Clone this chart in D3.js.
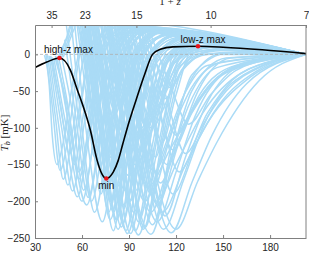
<!DOCTYPE html>
<html>
<head>
<meta charset="UTF-8">
<script src="https://d3js.org/d3.v7.min.js"></script>
<style>
  body { margin: 0; background: #fff; }
  svg { display: block; font-family: "Liberation Sans", Arial, sans-serif; }
</style>
</head>
<body>
<svg width="309" height="257"></svg>
<script>
// 21-cm rest frequency in MHz, used for the 1+z axis on top
const REST_FREQ = 1420.4;

const xTicks = [30, 60, 90, 120, 150, 180];
const yTicks = [0, -50, -100, -150, -200, -250];
const zTicks = [35, 23, 15, 10, 7];

// reference model (black): [nu MHz, T mK]
const blackCurve = [
  [30,-18],[37.5,-10.5],[45.6,-5],[52.5,-21],[56.8,-47],[62,-79],[65.3,-103],
  [69.6,-144],[72.5,-162],[75.5,-169],[80,-160],[83,-145],[86,-122],[90,-92],
  [94.5,-62],[100,-27],[105,0],[110,7],[118,10.2],[134,11],[150,9.8],[175,6.3],[203,1]
];

// extrema markers
const markNames = ["high-z max", "min", "low-z max"];
const markNu    = [45.6, 75.5, 134];
const markT     = [-5, -169, 11];

// light blue model family, each a flat list nu,T,nu,T,...
const blueCurves = [
  [37,0, 41,-70, 46,-158, 51,-115, 57,-20, 64,42, 120,26, 203,0],
  [38,-1, 43,-85, 48,-170, 54,-105, 60,-15, 69,46, 130,22, 203,0],
  [39,-2, 45,-95, 51,-178, 57,-105, 64,-8, 75,45, 140,19, 203,0],
  [40,-3, 47,-100, 54,-186, 61,-100, 68,0, 81,43, 150,16, 203,0],
  [41,-4, 49,-105, 57,-194, 65,-105, 73,-5, 87,38, 160,12, 203,0],
  [42,-5, 51,-110, 60,-200, 68,-110, 77,-8, 93,34, 150,16, 203,0],
  [43,-6, 52,-85, 58,-160, 65,-90, 72,0, 86,30, 203,0],
  [40,-2, 46,-65, 52,-135, 58,-75, 66,10, 80,36, 203,0],
  [44,-3, 52,-100, 63,-205, 72,-110, 81,-5, 97,33, 150,16, 203,0],
  [36,-1, 39,-40, 41,-110, 44,-150, 48,-120, 54,-40, 62,30, 74,46, 203,0],
  [43,-2, 49,-60, 55,-150, 61,-80, 68,10, 80,40, 203,0],
  [45,-3, 51,-70, 58,-170, 65,-90, 72,5, 84,40, 140,19, 203,0],
  [47,-3, 54,-80, 61,-185, 69,-95, 77,0, 90,36, 203,0],
  [49,20, 56,-85, 64,-195, 72,-100, 81,-2, 96,34, 203,0],
  [50,40, 58,-90, 66,-200, 75,-100, 84,0, 99,33, 160,12, 203,0],
  [52,70, 60,-100, 68,-215, 77,-110, 86,0, 100,32, 203,0],
  [54,70, 63,-110, 73,-228, 82,-115, 92,-3, 108,30, 203,0],
  [45,-2, 50,22, 54,48, 60,20, 66,-100, 72,-190, 79,-100, 87,0, 100,32, 203,0],
  [46,-3, 51,25, 56,55, 63,10, 70,-110, 77,-215, 85,-110, 94,0, 108,30, 203,0],
  [47,-4, 53,30, 58,60, 66,0, 74,-120, 82,-225, 91,-115, 100,0, 115,28, 203,0],
  [48,-4, 55,35, 61,65, 69,5, 78,-110, 86,-230, 95,-120, 104,0, 120,25, 203,0],
  [55,70, 63,-60, 68,-140, 75,-70, 82,10, 95,35, 203,0],
  [57,70, 66,-70, 71,-155, 79,-80, 87,5, 100,33, 203,0],
  [58,70, 67,-80, 73,-170, 81,-85, 89,0, 103,31, 203,0],
  [60,70, 69,-90, 75,-185, 83,-95, 92,0, 106,30, 203,0],
  [61,70, 71,-100, 78,-200, 86,-100, 95,0, 110,29, 203,0],
  [62,70, 72,-105, 80,-215, 89,-110, 98,-5, 114,27, 203,0],
  [63,70, 74,-110, 82,-225, 91,-115, 101,-5, 118,25, 203,0],
  [64,70, 72,-120, 80,-240, 88,-120, 97,-5, 114,27, 203,0],
  [65,70, 76,-115, 85,-235, 95,-120, 105,-8, 124,22, 203,0],
  [66,70, 78,-118, 88,-240, 98,-120, 108,-10, 128,20, 203,0],
  [68,70, 80,-120, 91,-244, 101,-125, 112,-15, 134,17, 203,0],
  [70,70, 84,-120, 96,-246, 108,-130, 120,-25, 142,10, 203,0],
  [74,70, 88,-125, 104,-245, 117,-140, 130,-50, 152,-5, 203,0],
  [60,70, 70,-115, 78,-225, 87,-115, 96,-3, 116,26, 203,0],
  [63,70, 74,-120, 83,-238, 93,-120, 102,-8, 122,23, 203,0],
  [67,70, 79,-122, 89,-244, 100,-125, 110,-12, 130,18, 203,0],
  [71,70, 83,-118, 94,-240, 105,-122, 116,-18, 138,12, 203,0],
  [75,70, 88,-112, 100,-236, 112,-118, 124,-22, 146,6, 203,0],
  [79,70, 92,-110, 105,-232, 118,-115, 130,-28, 154,2, 203,0],
  [56,70, 64,-50, 70,-120, 77,-60, 84,12, 98,36, 203,0],
  [59,70, 68,-55, 74,-130, 82,-60, 90,8, 104,33, 203,0],
  [62,70, 71,-60, 78,-140, 86,-70, 95,5, 110,30, 203,0],
  [64,70, 74,-70, 81,-155, 90,-75, 99,0, 115,28, 203,0],
  [66,70, 77,-80, 84,-170, 93,-85, 103,-3, 120,25, 203,0],
  [68,70, 79,-90, 87,-185, 97,-95, 107,-5, 126,22, 203,0],
  [70,70, 82,-100, 90,-200, 100,-100, 111,-8, 132,18, 203,0],
  [72,70, 84,-105, 93,-215, 104,-110, 115,-10, 138,15, 203,0],
  [74,70, 87,-110, 96,-228, 107,-115, 119,-12, 145,12, 203,0],
  [76,70, 89,-115, 99,-238, 111,-120, 123,-15, 150,8, 203,0],
  [58,70, 70,-90, 82,-180, 96,-90, 108,0, 125,24, 203,0],
  [60,70, 73,-100, 86,-205, 101,-100, 114,-5, 132,18, 203,0],
  [62,70, 76,-80, 90,-165, 105,-80, 117,0, 136,16, 203,0],
  [64,70, 79,-70, 94,-150, 109,-70, 121,0, 142,12, 203,0],
  [66,70, 82,-60, 97,-130, 112,-55, 125,0, 148,10, 203,0],
  [68,70, 85,-50, 100,-115, 115,-45, 128,0, 152,8, 203,0],
  [70,70, 88,-45, 104,-100, 119,-40, 132,0, 158,6, 203,0],
  [66,70, 72,-90, 76,-190, 81,-95, 87,5, 98,36, 150,16, 203,0],
  [69,70, 75,-95, 79,-205, 84,-100, 90,0, 102,34, 203,0],
  [72,70, 78,-100, 83,-215, 88,-105, 95,0, 108,31, 150,16, 203,0],
  [75,70, 82,-100, 87,-210, 93,-100, 100,0, 114,28, 203,0],
  [78,70, 85,-95, 91,-200, 97,-95, 104,2, 120,25, 203,0],
  [81,70, 89,-85, 95,-185, 102,-85, 109,5, 126,22, 203,0],
  [84,70, 92,-80, 99,-170, 106,-80, 114,5, 132,19, 203,0],
  [87,70, 96,-75, 103,-155, 111,-75, 119,5, 138,16, 203,0],
  [90,70, 99,-65, 107,-140, 115,-65, 124,5, 145,13, 203,0],
  [93,70, 103,-55, 111,-120, 120,-55, 130,5, 150,11, 203,0],
  [60,70, 68,-10, 73,-45, 79,-15, 85,15, 96,36, 203,0],
  [63,70, 72,-15, 78,-55, 85,-20, 92,12, 104,32, 203,0],
  [66,70, 76,-25, 82,-70, 90,-30, 98,8, 112,30, 203,0],
  [70,70, 80,-30, 87,-80, 95,-35, 104,5, 120,26, 203,0],
  [74,70, 85,-35, 92,-90, 101,-40, 110,0, 128,22, 203,0],
  [78,70, 90,-40, 98,-100, 107,-45, 117,-3, 138,16, 203,0],
  [82,70, 95,-30, 103,-85, 112,-35, 122,0, 145,12, 203,0],
  [86,70, 100,-25, 108,-70, 118,-25, 130,2, 155,8, 203,0],
  [90,60, 105,-20, 113,-60, 124,-20, 137,0, 165,4, 203,0],
  [72,70, 82,-5, 88,-40, 95,-10, 103,18, 118,28, 203,0],
  [58,70, 65,-20, 70,-60, 76,-25, 82,15, 94,38, 203,0],
  [64,70, 73,-35, 80,-85, 88,-40, 96,10, 108,31, 203,0],
  [68,70, 78,-45, 86,-105, 95,-50, 104,2, 118,26, 203,0],
  [76,70, 88,-50, 96,-115, 106,-55, 116,-2, 134,18, 203,0],
  [80,70, 93,-45, 101,-100, 111,-50, 121,-5, 142,12, 203,0],
  [96,55, 108,-15, 116,-45, 126,-15, 140,0, 170,3, 203,0],
  [72,70, 88,-100, 100,-200, 112,-130, 124,-60, 140,-15, 203,0],
  [75,70, 91,-110, 104,-215, 116,-145, 128,-70, 146,-18, 203,0],
  [78,70, 94,-120, 108,-228, 120,-160, 132,-85, 152,-25, 203,0],
  [82,70, 98,-125, 112,-238, 125,-170, 138,-95, 158,-35, 203,0],
  [85,70, 101,-130, 117,-243, 130,-175, 143,-110, 165,-40, 203,0],
  [88,70, 104,-135, 120,-238, 134,-172, 146,-120, 173,-36, 203,0],
  [80,70, 95,-80, 106,-160, 118,-100, 130,-45, 150,-10, 203,0],
  [84,70, 99,-90, 110,-175, 122,-115, 135,-55, 158,-15, 203,0],
  [88,70, 103,-75, 114,-150, 126,-95, 140,-45, 165,-12, 203,0],
  [92,70, 107,-60, 118,-130, 130,-80, 145,-35, 170,-10, 203,0],
  [95,60, 110,-50, 120,-110, 133,-65, 150,-25, 175,-6, 203,0],
  [78,70, 93,-100, 104,-190, 116,-115, 128,-40, 148,0, 203,0],
  [82,70, 97,-105, 108,-205, 121,-125, 134,-50, 155,-5, 203,0],
  [86,70, 101,-110, 113,-220, 126,-140, 140,-65, 162,-15, 203,0],
  [76,70, 90,-90, 102,-180, 116,-130, 132,-70, 155,-20, 203,0],
  [80,70, 94,-100, 107,-200, 121,-145, 137,-80, 162,-25, 203,0],
  [84,70, 98,-110, 111,-215, 126,-150, 141,-90, 168,-30, 203,0],
  [90,70, 106,-95, 118,-190, 132,-125, 147,-70, 172,-22, 203,0],
  [94,70, 110,-80, 122,-160, 136,-100, 152,-50, 176,-15, 203,0],
  [98,60, 114,-60, 126,-135, 140,-80, 156,-35, 180,-10, 203,0],
  [100,50, 116,-40, 128,-95, 142,-55, 158,-22, 182,-6, 203,0]
];

const svg = d3.select("svg");
const plotLeft = 35, plotRight = 306, plotTop = 25, plotBottom = 238;

const x = d3.scaleLinear().domain([30, REST_FREQ / 7]).range([plotLeft, plotRight]);
const y = d3.scaleLinear().domain([-250, 40]).range([plotBottom, plotTop]);

svg.append("clipPath").attr("id", "plotclip")
  .append("rect").attr("x", plotLeft).attr("y", plotTop)
  .attr("width", plotRight - plotLeft).attr("height", plotBottom - plotTop);

const line = d3.line()
  .x(d => x(d[0])).y(d => y(d[1]))
  .curve(d3.curveMonotoneX);

const pairs = a => d3.range(0, a.length, 2).map(i => [a[i], a[i + 1]]);

const plot = svg.append("g").attr("clip-path", "url(#plotclip)");

plot.selectAll("path.model")
  .data(blueCurves)
  .enter().append("path")
  .attr("class", "model")
  .attr("d", d => line(pairs(d)))
  .attr("fill", "none")
  .attr("stroke", "#aadbf6")
  .attr("stroke-width", 1.5);

// dashed zero line
plot.append("line")
  .attr("x1", plotLeft).attr("x2", plotRight)
  .attr("y1", y(0)).attr("y2", y(0))
  .attr("stroke", "#b0b0b0").attr("stroke-width", 0.8)
  .attr("stroke-dasharray", "3,2");

plot.append("path")
  .attr("d", line(blackCurve))
  .attr("fill", "none")
  .attr("stroke", "#000")
  .attr("stroke-width", 1.6);

// axes (MATLAB-like box, ticks pointing in)
const axisColor = "#808080";
const textColor = "#262626";

const xAxis = svg.append("g").attr("transform", `translate(0,${plotBottom})`)
  .call(d3.axisBottom(x).tickValues(xTicks).tickSizeInner(-3).tickSizeOuter(0).tickPadding(6));
const yAxis = svg.append("g").attr("transform", `translate(${plotLeft},0)`)
  .call(d3.axisLeft(y).tickValues(yTicks).tickSizeInner(-3).tickSizeOuter(0).tickPadding(5));
const zAxis = svg.append("g").attr("transform", `translate(0,${plotTop})`)
  .call(d3.axisTop(x).tickValues(zTicks.map(z => REST_FREQ / z))
    .tickFormat((d, i) => zTicks[i]).tickSizeInner(-3).tickSizeOuter(0).tickPadding(6));

[xAxis, yAxis, zAxis].forEach(g => {
  g.select(".domain").attr("stroke", axisColor);
  g.selectAll(".tick line").attr("stroke", axisColor);
  g.selectAll(".tick text").attr("fill", textColor)
    .style("font-size", "10px").style("font-family", "Liberation Sans, Arial, sans-serif");
});

svg.append("line").attr("x1", plotRight).attr("x2", plotRight).attr("y1", plotTop).attr("y2", plotBottom)
  .attr("stroke", axisColor);

// axis titles (partly outside the frame, as in the reference)
svg.append("text")
  .attr("x", 170).attr("y", 5)
  .attr("text-anchor", "middle")
  .attr("fill", textColor)
  .style("font-family", "Liberation Serif, serif").style("font-size", "11px")
  .html('1 + <tspan font-style="italic">z</tspan>');

svg.append("text")
  .attr("x", 183).attr("y", 265)
  .attr("text-anchor", "middle")
  .attr("fill", textColor)
  .style("font-family", "Liberation Serif, serif").style("font-size", "11px")
  .html('<tspan font-style="italic">ν</tspan> [MHz]');

svg.append("text")
  .attr("transform", "translate(8,133) rotate(-90)")
  .attr("text-anchor", "middle")
  .attr("fill", textColor)
  .style("font-family", "Liberation Serif, serif").style("font-size", "11px")
  .html('<tspan font-style="italic">T</tspan><tspan font-size="8px" dy="2"><tspan font-style="italic">b</tspan></tspan><tspan dy="-2"> [mK]</tspan>');

// extrema dots and labels
const labelDx = [9, 0, 5];
const labelDy = [-5, 10, -3];

svg.selectAll("circle.mark")
  .data(markNames)
  .enter().append("circle")
  .attr("class", "mark")
  .attr("cx", (d, i) => x(markNu[i]))
  .attr("cy", (d, i) => y(markT[i]))
  .attr("r", 2.3)
  .attr("fill", "#e8141b");

svg.selectAll("text.mark")
  .data(markNames)
  .enter().append("text")
  .attr("class", "mark")
  .attr("x", (d, i) => x(markNu[i]) + labelDx[i])
  .attr("y", (d, i) => y(markT[i]) + labelDy[i])
  .attr("text-anchor", "middle")
  .attr("fill", "#111")
  .style("font-size", "10px")
  .text(d => d);
</script>
</body>
</html>
